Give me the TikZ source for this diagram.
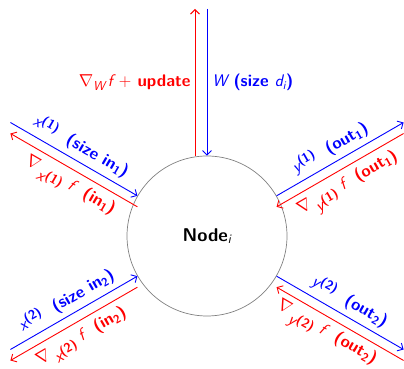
\documentclass[tikz,border=0pt]{standalone}
\usepackage{amsmath}
\usetikzlibrary{arrows.meta}

% variables: medium-weight sans oblique
\newcommand\sv[1]{\text{\mdseries\itshape #1}}
% raised index, kept large
\newcommand\upx[1]{\raisebox{0.6ex}{\fontsize{13}{13}\selectfont #1}}
% lowered index of the gradient sign
\newcommand\dnx[1]{\raisebox{-1ex}{#1}}
\newcommand\nab{{\fontsize{19}{19}\selectfont$\nabla$}}

\tikzset{
  flow/.style={line width=0.9pt, -{Straight Barb[length=4.5pt,width=9pt]}},
  fwd/.style={flow, blue},
  bwd/.style={flow, red},
  lbl/.style={font=\fontsize{16.8}{18}\selectfont\sffamily\bfseries, inner sep=3pt},
  unit/.style={circle, draw=gray, line width=0.7pt, minimum size=160pt, inner sep=0pt,
    font=\fontsize{18.5}{20}\selectfont\sffamily\bfseries}
}

\begin{document}
\begin{tikzpicture}[x=1pt,y=1pt]
  \useasboundingbox (0,0) rectangle (404,369);

  \node[unit] (n) at (207,133) {Node$_{\sv{i}}$};

  % far ends of the five connectors
  \coordinate (top) at ([shift={(90:227)}]n.center);
  \coordinate (ul)  at ([shift={(150:227)}]n.center);
  \coordinate (ur)  at ([shift={(30:227)}]n.center);
  \coordinate (ll)  at ([shift={(210:227)}]n.center);
  \coordinate (lr)  at ([shift={(330:227)}]n.center);

  % parameters
  \draw[fwd] (top) -- (n.90)
    node[lbl, blue, right=2pt, pos=0.5] {\sv{W} (size \sv{d}$_{\sv{i}}$)};
  \draw[bwd] ([xshift=-12pt]n.90) -- ([xshift=-12pt]top)
    node[lbl, red, left=1pt, pos=0.5]
      {\nab\raisebox{-0.5ex}{\fontsize{13}{13}\selectfont\sv{W}}\,\sv{f} $+$ update};

  % first input
  \draw[fwd] (ul) -- (n.150)
    node[lbl, blue, sloped, above=2pt, pos=0.5] {\sv{x}\upx{(1)} \ (size in$_{\text{1}}$)};
  \draw[bwd] ([yshift=-11pt]n.150) -- ([yshift=-11pt]ul)
    node[lbl, red, sloped, below=3pt, pos=0.47] {\nab\,\dnx{\sv{x}\upx{(1)}} \sv{f} \ (in$_{\text{1}}$)};

  % first output
  \draw[fwd] (n.30) -- (ur)
    node[lbl, blue, sloped, above=2pt, pos=0.48] {\sv{y}\upx{(1)} \ (out$_{\text{1}}$)};
  \draw[bwd] ([yshift=-11pt]ur) -- ([yshift=-11pt]n.30)
    node[lbl, red, sloped, below=3pt, pos=0.5] {\nab\,\dnx{\sv{y}\upx{(1)}} \sv{f} \ (out$_{\text{1}}$)};

  % second input
  \draw[fwd] (ll) -- (n.210)
    node[lbl, blue, sloped, above=2pt, pos=0.5] {\sv{x}\upx{(2)} \ (size in$_{\text{2}}$)};
  \draw[bwd] ([yshift=-11pt]n.210) -- ([yshift=-11pt]ll)
    node[lbl, red, sloped, below=3pt, pos=0.5] {\nab\,\dnx{\sv{x}\upx{(2)}} \sv{f} \ (in$_{\text{2}}$)};

  % second output
  \draw[fwd] (n.330) -- (lr)
    node[lbl, blue, sloped, above=2pt, pos=0.52] {\sv{y}\upx{(2)} \ (out$_{\text{2}}$)};
  \draw[bwd] ([yshift=-11pt]lr) -- ([yshift=-11pt]n.330)
    node[lbl, red, sloped, below=2pt, pos=0.55] {\nab\,\dnx{\sv{y}\upx{(2)}} \sv{f} \ (out$_{\text{2}}$)};
\end{tikzpicture}
\end{document}
